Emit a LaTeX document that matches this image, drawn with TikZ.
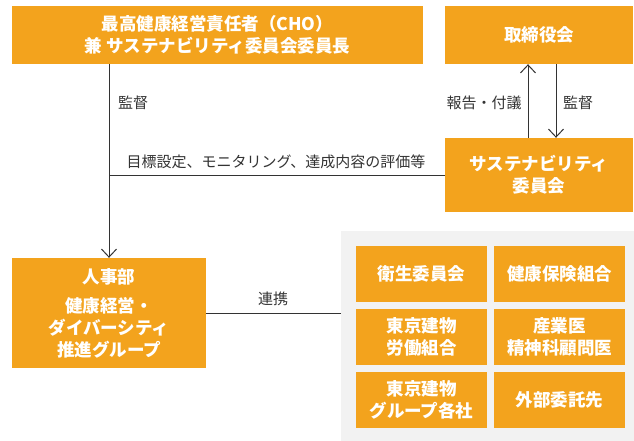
\documentclass[tikz,border=0pt]{standalone}
\usepackage{fontspec}
\setmainfont{Noto Sans CJK JP}
\usetikzlibrary{arrows.meta}
\definecolor{orng}{HTML}{F3A31D}
\definecolor{panelgray}{HTML}{F2F2F2}
\definecolor{ink}{HTML}{333333}
\tikzset{
  obox/.style={fill=orng, draw=none, text=white, align=center, inner sep=0pt,
    font=\fontsize{17.5}{22}\selectfont\bfseries},
  lbl/.style={text=ink, inner sep=0pt, font=\fontsize{15}{18}\selectfont},
  conn/.style={draw=ink, line width=1pt},
  arr/.style={conn, -{Straight Barb[length=8pt,width=15pt,line width=1pt]}}
}
\begin{document}
\begin{tikzpicture}[x=1pt,y=-1pt]
\useasboundingbox (0,0) rectangle (634,441);
% main boxes
\node[obox, minimum width=411pt, minimum height=58pt] (cho) at (217.5,35)
  {最高健康経営責任者（CHO）\\兼 サステナビリティ委員会委員長};
\node[obox, minimum width=188pt, minimum height=58pt] (tori) at (539,35) {取締役会};
\node[obox, minimum width=188pt, minimum height=74pt] (sus) at (539,175)
  {サステナビリティ\\委員会};
\node[obox, minimum width=194pt, minimum height=110pt] (jinji) at (109,313)
  {人事部\\[7pt]健康経営・\\ダイバーシティ\\推進グループ};
% panel
\node[fill=panelgray, draw=none, minimum width=293pt, minimum height=210pt, inner sep=0pt] (panel) at (487.5,336) {};
\node[obox, minimum width=131pt, minimum height=56pt] (b1) at (421.5,274) {衛生委員会};
\node[obox, minimum width=131pt, minimum height=56pt] (b2) at (559.5,274) {健康保険組合};
\node[obox, minimum width=131pt, minimum height=56pt] (b3) at (421.5,337) {東京建物\\労働組合};
\node[obox, minimum width=131pt, minimum height=56pt] (b4) at (559.5,337) {産業医\\精神科顧問医};
\node[obox, minimum width=131pt, minimum height=56pt] (b5) at (421.5,400) {東京建物\\グループ各社};
\node[obox, minimum width=131pt, minimum height=56pt] (b6) at (559.5,400) {外部委託先};
% connectors
\coordinate (jtop) at (jinji.north |- cho.south);
\draw[arr] (jtop) -- (jinji.north);
\coordinate (jmid) at (jinji.north |- sus.west);
\draw[conn] (sus.west) -- (jmid);
\coordinate (pl) at (jinji.east -| panel.west);
\draw[conn] (jinji.east) -- (pl);
\draw[arr] ([xshift=-11pt]sus.north) -- ([xshift=-11pt]tori.south);
\draw[arr] ([xshift=17pt]tori.south) -- ([xshift=17pt]sus.north);
% labels
\node[lbl, anchor=west] (l1) at (118,103) {監督};
\node[lbl] (l2) at (484,103) {報告・付議};
\node[lbl] (l3) at (578,103) {監督};
\node[lbl] (l4) at (276,162) {目標設定、モニタリング、達成内容の評価等};
\node[lbl] (l5) at (273,299) {連携};
\end{tikzpicture}
\end{document}
